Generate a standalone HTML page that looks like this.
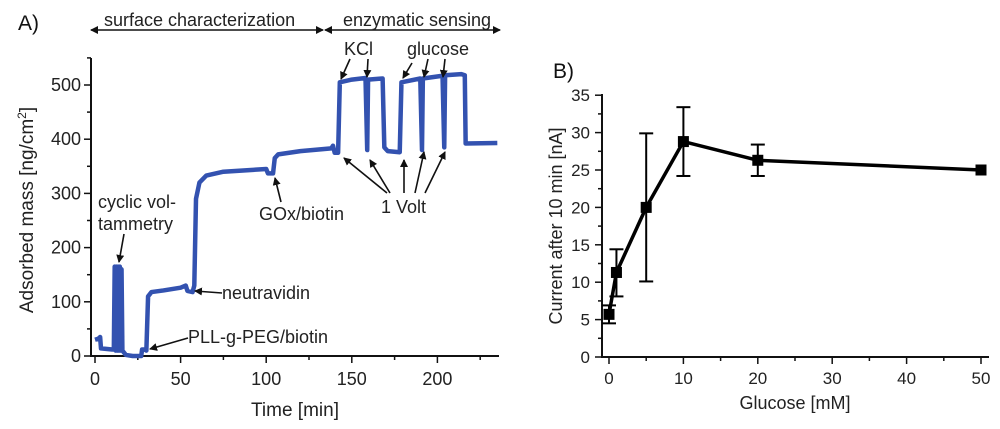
<!DOCTYPE html>
<html><head><meta charset="utf-8"><style>
html,body{margin:0;padding:0;background:#fff;}
svg{display:block;font-family:"Liberation Sans",sans-serif;}
</style></head><body>
<svg id="fig" width="1000" height="429" viewBox="0 0 1000 429">
<defs>
<marker id="ah" markerWidth="8" markerHeight="8" refX="7" refY="4" orient="auto" markerUnits="userSpaceOnUse"><path d="M0,0 L8,4 L0,8 z" fill="#111"/></marker>
<marker id="ahs" markerWidth="8" markerHeight="8" refX="1" refY="4" orient="auto" markerUnits="userSpaceOnUse"><path d="M8,0 L0,4 L8,8 z" fill="#111"/></marker>
</defs>
<g id="A"></g>
<g id="B"></g>
</svg>
<script>
// Panel A data: time [min] and adsorbed mass [ng/cm2]
const timeA = [0,2,3,3.5,10,11,11.5,12,12.5,13,13.5,14,14.5,15,15.5,16,18,22,27,27.5,29,30,31,33,40,50,53,54,57,58,59,61,65,75,90,100,101,104,105,107,120,138,139,140,142,143,150,158,159,159.5,168,169,171,178,179,190,191,191.5,203,204,204.5,214,216,216.5,235];
const massA = [30,32,35,14,12,12,165,10,165,10,165,10,165,10,160,10,2,0,0,12,12,10,110,118,121,126,130,120,118,130,290,320,333,340,343,345,337,337,365,372,378,383,388,375,375,505,510,513,380,510,512,385,378,376,505,512,380,512,517,385,518,520,518,392,393];
const xTicksA = [0,50,100,150,200];
const yTicksA = [0,100,200,300,400,500];
// Panel B data
const glucose = [0,1,5,10,20,50];
const current = [5.7,11.3,20,28.8,26.3,25];
const errUp = [1.2,3.1,9.9,4.6,2.1,0];
const errDn = [1.2,3.2,9.9,4.6,2.1,0];
const xTicksB = [0,10,20,30,40,50];
const yTicksB = [0,5,10,15,20,25,30,35];

const NS="http://www.w3.org/2000/svg";
function mk(parent,tag,attrs,text){const e=document.createElementNS(NS,tag);for(const k in attrs)e.setAttribute(k,attrs[k]);if(text!==undefined)e.textContent=text;parent.appendChild(e);return e;}

// ---------- Panel A ----------
const A=document.getElementById('A');
const xA=t=>95+t*1.712;
const yA=m=>356-m*0.542;
let ax=mk(A,'line',{x1:91,y1:356,x2:499,y2:356,stroke:'#111','stroke-width':2});

let ay=mk(A,'line',{x1:91,y1:58,x2:91,y2:357,stroke:'#111','stroke-width':2});

for(let t=0;t<=225;t+=25){mk(A,'line',{x1:xA(t),y1:356,x2:xA(t),y2:t%50===0?363:360,stroke:'#111','stroke-width':1.5});}
for(let m=0;m<=550;m+=50){mk(A,'line',{x1:91,y1:yA(m),x2:m%100===0?84:87,y2:yA(m),stroke:'#111','stroke-width':1.5});}
xTicksA.forEach(v=>{const e=mk(A,'text',{x:xA(v),y:385,'text-anchor':'middle','font-size':18,fill:'#222'},v);});
yTicksA.forEach(v=>{const e=mk(A,'text',{x:81,y:yA(v)+6,'text-anchor':'end','font-size':18,fill:'#222'},v);});
let pa=mk(A,'polyline',{points:timeA.map((t,i)=>xA(t)+','+yA(massA[i])).join(' '),fill:'none',stroke:'#3352b0','stroke-width':4.5,'stroke-linejoin':'round'});

let xt=mk(A,'text',{x:295,y:416,'text-anchor':'middle','font-size':19,fill:'#222'},'Time [min]');

let yt=mk(A,'text',{x:0,y:0,transform:'translate(33,210) rotate(-90)','text-anchor':'middle','font-size':19,fill:'#222'});

yt.innerHTML='Adsorbed mass [ng/cm<tspan dy="-7" font-size="12">2</tspan><tspan dy="7">]</tspan>';
let lab=mk(A,'text',{x:18,y:30,'font-size':21,fill:'#111'},'A)');

function arr(x1,y1,x2,y2,both){const l=mk(A,'line',{x1,y1,x2,y2,stroke:'#111','stroke-width':1.6,'marker-end':'url(#ah)'});if(both)l.setAttribute('marker-start','url(#ahs)');return l;}
let p1=arr(91,30,323,30,true);
let p2=arr(325,30,500,30,true);
function txt(x,y,s,name){const e=mk(A,'text',{x,y,'font-size':18,fill:'#222'},s);return e;}
txt(104,26,'surface characterization','surface-characterization-label');
txt(343,26,'enzymatic sensing','enzymatic-sensing-label');
txt(344,55,'KCl','kcl-label');
txt(407,55,'glucose','glucose-label');
txt(381,213,'1 Volt','one-volt-label');
txt(259,220,'GOx/biotin','gox-biotin-label');
txt(98,208,'cyclic vol-','cyclic-voltammetry-label');
txt(98,230,'tammetry','cyclic-voltammetry-label-2');
txt(222,299,'neutravidin','neutravidin-label');
txt(188,343,'PLL-g-PEG/biotin','pll-peg-label');
[[350,59,341,79],[368,59,367,77],[412,63,403,78],[428,59,424,77],[445,59,443,77],
 [387,193,344,158],[390,193,370,160],[404,193,404,160],[415,193,424,152],[425,193,445,152],
 [281,202,275,178],[124,234,119,262],[222,293,195,291],[188,338,150,349]].forEach(a=>{const l=arr(a[0],a[1],a[2],a[3]);});

// ---------- Panel B ----------
const B=document.getElementById('B');
const xB=v=>609+v*7.44;
const yB=v=>357-v*7.48;
let bx=mk(B,'line',{x1:601,y1:357,x2:989,y2:357,stroke:'#111','stroke-width':2});

let by=mk(B,'line',{x1:602,y1:94,x2:602,y2:358,stroke:'#111','stroke-width':2});

for(let v=0;v<=50;v+=5){mk(B,'line',{x1:xB(v),y1:357,x2:xB(v),y2:v%10===0?364:361,stroke:'#111','stroke-width':1.5});}
for(let v=0;v<=35;v+=2.5){mk(B,'line',{x1:602,y1:yB(v),x2:v%5===0?595:598,y2:yB(v),stroke:'#111','stroke-width':1.5});}
xTicksB.forEach(v=>{const e=mk(B,'text',{x:xB(v),y:384,'text-anchor':'middle','font-size':17,fill:'#222'},v);});
yTicksB.forEach(v=>{const e=mk(B,'text',{x:590,y:yB(v)+6,'text-anchor':'end','font-size':17,fill:'#222'},v);});
let ln=mk(B,'polyline',{points:glucose.map((g,i)=>xB(g)+','+yB(current[i])).join(' '),fill:'none',stroke:'#000','stroke-width':3.5,'stroke-linejoin':'round'});

glucose.forEach((g,i)=>{
  const x=xB(g);
  if(errUp[i]>0||errDn[i]>0){
    const eb=mk(B,'g',{stroke:'#000','stroke-width':2});
    
    mk(eb,'line',{x1:x,y1:yB(current[i]+errUp[i]),x2:x,y2:yB(current[i]-errDn[i])});
    mk(eb,'line',{x1:x-7,y1:yB(current[i]+errUp[i]),x2:x+7,y2:yB(current[i]+errUp[i])});
    mk(eb,'line',{x1:x-7,y1:yB(current[i]-errDn[i]),x2:x+7,y2:yB(current[i]-errDn[i])});
  }
  const r=mk(B,'rect',{x:x-5.5,y:yB(current[i])-5.5,width:11,height:11,fill:'#000'});
  
});
let bxt=mk(B,'text',{x:795,y:409,'text-anchor':'middle','font-size':18,fill:'#222'},'Glucose [mM]');

let byt=mk(B,'text',{x:0,y:0,transform:'translate(562,226) rotate(-90)','text-anchor':'middle','font-size':18,fill:'#222'},'Current after 10 min [nA]');

let lb=mk(B,'text',{x:553,y:78,'font-size':21,fill:'#111'},'B)');

</script>
</body></html>
